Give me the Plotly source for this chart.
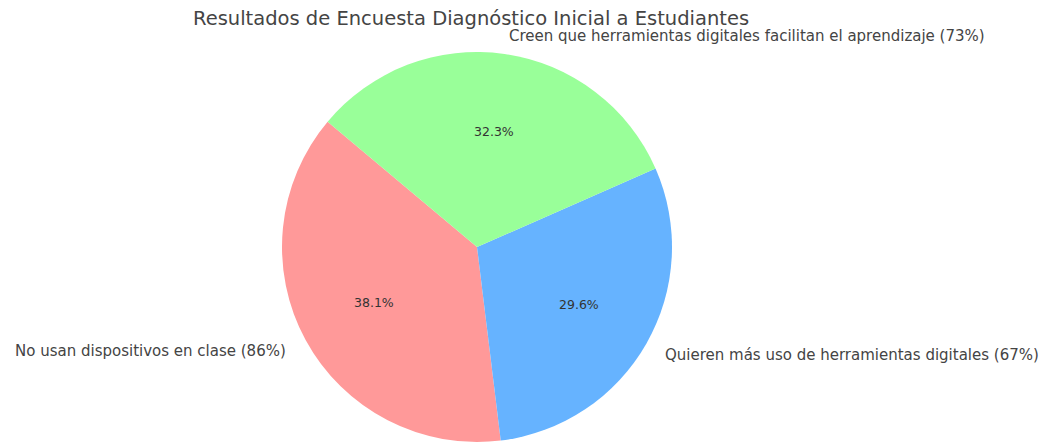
import numpy as np
import plotly.graph_objects as go

labels = [
    "No usan dispositivos en clase (86%)",
    "Quieren más uso de herramientas digitales (67%)",
    "Creen que herramientas digitales facilitan el aprendizaje (73%)",
]
values = [86, 67, 73]
colors = ["#ff9999", "#66b3ff", "#99ff99"]
title = "Resultados de Encuesta Diagnóstico Inicial a Estudiantes"

W, H = 1051, 442
OFF = 8.0  # page body margin offset
start_angle = 140.0  # degrees, counterclockwise from 3 o'clock
cx_px, cy_px, r_px = 477.0 - OFF, 247.0 - OFF, 195.0

vals = np.array(values, dtype=float)
fracs = vals / vals.sum()
# Plotly counterclockwise: rotation marks the boundary between slice 0 and slice 1
rotation = 90.0 - (start_angle + 360.0 * fracs[0])

dom_x = [(cx_px - r_px) / W, (cx_px + r_px) / W]
dom_y = [1 - (cy_px + r_px) / H, 1 - (cy_px - r_px) / H]

fig = go.Figure()
fig.add_trace(go.Pie(
    labels=labels,
    values=values,
    marker=dict(colors=colors, line=dict(width=0)),
    sort=False,
    direction="counterclockwise",
    rotation=rotation,
    textinfo="none",
    domain=dict(x=dom_x, y=dom_y),
    showlegend=False,
    hovertemplate="%{label}<br>%{percent:.1%}<extra></extra>",
))

annotations = []
cum = start_angle
for lab, f in zip(labels, fracs):
    mid = np.deg2rad(cum + 180.0 * f)
    cum += 360.0 * f
    # percentage text at 0.6 r
    px = cx_px + 0.6 * r_px * np.cos(mid)
    py = cy_px - 0.6 * r_px * np.sin(mid)
    annotations.append(dict(
        x=px / W, y=1 - py / H, xref="paper", yref="paper",
        text=f"{f*100:.1f}%", showarrow=False,
        font=dict(family="DejaVu Sans", size=12.5, color="#333333"),
        xanchor="center", yanchor="middle",
    ))
    # label at 1.1 r
    lx = cx_px + 1.1 * r_px * np.cos(mid)
    ly = cy_px - 1.1 * r_px * np.sin(mid) + 1.5
    annotations.append(dict(
        x=lx / W, y=1 - ly / H, xref="paper", yref="paper",
        text=lab, showarrow=False,
        font=dict(family="DejaVu Sans", size=15, color="#444444"),
        xanchor="left" if np.cos(mid) > 0 else "right", yanchor="middle",
    ))

annotations.append(dict(
    x=(471 - OFF) / W, y=1 - (18 - OFF) / H, xref="paper", yref="paper",
    text=title, showarrow=False,
    font=dict(family="DejaVu Sans", size=19.5, color="#444444"),
    xanchor="center", yanchor="middle",
))

fig.update_layout(
    width=W, height=H,
    margin=dict(l=0, r=0, t=0, b=0),
    paper_bgcolor="white", plot_bgcolor="white",
    annotations=annotations,
)

fig.write_html("out.html")
